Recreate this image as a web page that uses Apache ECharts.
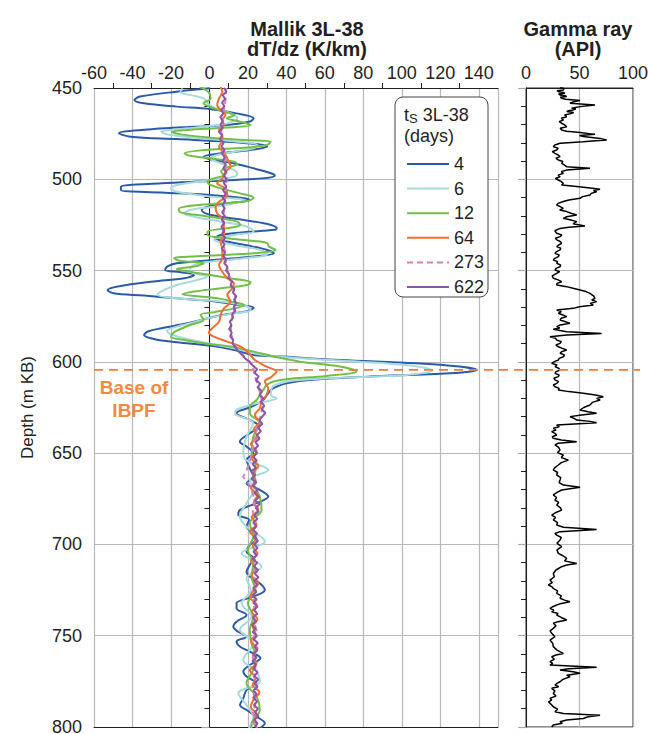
<!DOCTYPE html>
<html>
<head>
<meta charset="utf-8">
<script src="https://cdn.jsdelivr.net/npm/echarts@6/dist/echarts.min.js"></script>
<style>
  html, body { margin: 0; padding: 0; background: #fff; }
  #chart { width: 648px; height: 734px; }
</style>
</head>
<body>
<div id="chart"></div>
<script>
// depth (m KB), dT/dz (K/km) pairs, one list per shut-in time
const days = ['4', '6', '12', '64', '273', '622'];
const colors = ['#2b5aa8', '#a6dadd', '#72bf47', '#f26d30', '#d67fbe', '#8b56a6'];
const baseIBPF = 604.4;

const ts4 = [[450.2,0],[452.0,-17],[454.7,-36],[456.6,-39],[458.4,-34],[460.2,-17],[461.5,0],[463.9,14],[466.6,23],[468.4,21],[470.3,9],[471.2,-8],[472.5,-29],[474.8,-47],[476.7,-41],[478.0,-17],[479.4,9],[480.9,26],[482.1,30],[484.0,21],[485.8,6],[487.6,-3],[489.4,2],[491.3,13],[494.0,23],[496.7,32],[498.0,34],[499.5,27],[501.0,0],[502.2,-25],[504.1,-46],[505.9,-46],[507.2,-25],[508.6,0],[510.4,18],[511.4,21],[513.2,9],[515.0,-1],[516.8,-4],[518.7,-2],[520.5,6],[522.3,18],[525.0,32],[526.8,35],[527.7,34],[529.0,18],[530.5,6],[532.3,3],[534.1,9],[536.3,20],[538.7,30],[540.5,33.5],[542.3,23],[544.2,2],[546.0,-17],[547.8,-22],[549.7,-23],[550.9,-15],[552.4,-8],[554.2,-13],[556.0,-29],[557.9,-43],[560.6,-53],[562.4,-50],[563.7,-34],[565.2,-17],[566.6,0],[568.5,13],[570.3,23],[572.1,20],[573.9,9],[576.1,-1],[578.9,-11.5],[581.6,-25],[583.4,-32],[585.3,-34],[587.5,-29],[589.3,-17],[591.1,0],[593.5,13],[596.2,23],[597.1,38],[599.0,68],[600.8,107.6],[602.6,130],[604.4,139],[606.3,125],[608.1,82],[609.9,52],[611.7,40],[613.6,35],[615.4,32],[618.0,30],[620.9,28],[624.5,22],[628.1,14],[631.8,21],[635.4,26],[639.1,21],[643.7,15.8],[646.4,19.3],[650.1,22.8],[653.7,19.3],[658.3,21],[662.8,22.8],[666.5,19.3],[670.1,26.2],[673.8,30.6],[677.4,24.5],[681.1,15.9],[683.8,15],[686.6,20.6],[690.2,19.3],[693.9,22.8],[697.5,24.5],[700.3,21],[703.9,19.3],[707.6,22.8],[711.2,21],[714.9,19.3],[717.6,21],[721.3,26.2],[724.9,28.8],[728.6,22.8],[732.2,14.1],[734.9,14.1],[738.6,19.3],[742.3,14.1],[745.0,12.4],[747.7,14.7],[750.5,19.3],[753.2,14.1],[755.9,15.8],[758.7,21],[762.3,26.5],[766.0,21],[769.6,17.6],[772.4,19.3],[776.0,24.5],[779.7,19.3],[784.3,17.6],[787.9,15.9],[790.7,19.3],[794.3,24.5],[798.0,28.8],[800.7,26.2]];

const ts6 = [[450.2,-14],[452.0,-15],[455.7,-3],[459.3,0],[462.0,6],[464.8,13],[466.6,14.5],[469.4,9],[471.2,-3],[473.0,-20],[474.0,-25],[475.8,-20],[477.6,-3],[479.4,14.5],[481.2,25],[483.0,23],[484.9,13],[486.7,4],[488.5,0.6],[491.3,6],[494.0,11],[496.8,14.5],[498.6,13],[500.4,0.6],[503.1,-17],[505.0,-20],[506.8,-17],[509.5,0.6],[511.4,18],[514.1,9],[516.8,-10],[518.7,-13],[520.5,-8],[523.2,6],[526.0,19.7],[528.7,23],[530.5,13],[533.2,2.3],[536.0,13],[538.7,26.6],[541.0,30],[543.3,18],[545.1,0.6],[546.9,-8],[549.7,-10],[551.5,-8],[553.3,-1],[555.1,-6],[557.9,-17],[560.6,-23.6],[563.3,-27],[565.2,-17],[567.0,5.8],[569.7,19.7],[571.6,21.4],[573.4,13],[576.1,-1],[578.9,-10],[580.7,-17],[583.0,-22],[584.9,-20],[587.1,-13],[589.8,-1],[592.6,13],[595.3,23],[596.5,30],[598.0,47],[599.9,78],[602.2,106],[604.8,116],[607.2,102.4],[608.5,73],[609.9,47],[611.7,36.6],[614.5,32.3],[618.1,32],[620.0,35],[622.7,24.5],[626.3,14],[628.1,13.3],[633.6,22.8],[640.9,19.3],[649.1,17.6],[653.8,19],[659.2,30.6],[664.7,21],[670.0,23],[677.4,19.3],[684.7,15.8],[690.0,19],[698.4,28.8],[704.8,16.7],[712.1,27.1],[718.5,19.3],[725.0,21.5],[732.2,16.7],[739.5,21.9],[746.8,15.8],[754.1,22.8],[763.3,17.6],[769.0,24],[775.1,26.2],[781.5,15],[788.0,19.3],[794.5,22.8],[800.7,20.5]];

const ts12 = [[449.3,-5],[451.0,-2],[452.9,0],[455.7,0.6],[458.4,-3],[460.2,0],[463.0,7.5],[464.8,13],[466.6,9],[468.4,16],[470.3,21.4],[471.7,9],[473.0,-11.5],[474.0,-19.3],[475.4,-15],[477.2,0.6],[478.5,18],[479.4,31.8],[481.2,30],[482.7,18],[484.0,-3],[485.8,-13],[487.1,-10],[488.5,0.6],[490.4,13],[491.8,14.5],[493.6,9],[495.8,6],[497.7,7.5],[499.5,2.3],[501.3,-1],[503.1,0.6],[505.0,6],[507.7,16],[510.1,23],[511.9,19.7],[513.2,6],[514.5,-10],[516.3,-16],[518.1,-15],[519.6,-6.3],[521.4,6],[523.2,14.5],[525.0,16],[526.8,9],[528.7,-1],[530.5,-1],[532.3,9],[533.8,23],[535.0,30],[536.9,31],[538.7,34.4],[540.5,23],[541.8,0.6],[543.3,-18.4],[544.7,-15],[546.0,-3],[547.8,-8],[549.1,-17],[550.6,-10],[552.4,0.6],[554.6,13],[556.4,21.4],[557.9,19.7],[559.7,6],[561.5,-8],[563.0,-14],[564.3,-3],[565.5,6],[567.4,13],[568.8,18],[570.7,13],[572.8,2.3],[574.3,-4.6],[577.0,-3],[579.8,-10],[582.0,-15],[583.8,-18.4],[586.2,-20],[588.0,-13],[589.8,-3],[591.6,11],[594.4,23],[597.1,33.5],[599.9,47],[602.6,67.8],[605.3,76.4],[607.7,60.9],[609.5,40],[610.8,33.2],[612.7,29.7],[615.4,28],[618.1,26.2],[620.9,24.5],[624.5,21],[628.1,21],[633.6,26.2],[640.9,22.8],[650.0,22],[655.0,24],[659.2,23.9],[666.0,23],[673.8,26.2],[681.1,27.1],[688.4,21],[695.7,22.8],[703.0,20],[710.3,22.8],[717.6,21.9],[724.9,23.9],[732.2,20],[739.5,22.8],[746.8,21],[754.1,21.9],[761.4,23.9],[768.7,22.8],[776.0,19.3],[783.3,24.5],[790.7,26.2],[798.0,22],[800.7,21.9]];

const ts64 = [[449.4,5.8],[452.0,6.7],[455.7,5],[459.3,4],[462.0,5.8],[464.8,8.4],[467.5,6.7],[470.3,7.5],[473.0,5],[475.8,6.7],[478.5,6.7],[482.1,5],[486.7,8.4],[490.4,10],[493.1,11],[495.8,8.4],[499.5,6.7],[502.2,4],[505.0,8.4],[508.6,9.3],[512.3,5],[515.0,3.2],[518.7,4],[521.4,6.7],[525.0,7.5],[530.5,7.5],[534.1,5.8],[538.5,6.7],[543.3,6.7],[546.9,5],[550.6,6.7],[554.2,9.3],[557.0,12.7],[559.7,11.9],[563.3,9.3],[567.0,11],[570.7,7.5],[574.3,5.8],[578.0,5],[581.6,1.5],[583.8,-0.3],[586.2,2.3],[588.9,9.3],[591.6,16.2],[594.4,19.7],[596.5,21.5],[599.0,23.6],[602.6,29.7],[605.3,34.9],[608.1,32.3],[610.8,28.8],[614.5,30.6],[618.1,29.7],[621.8,27.1],[625.4,26.2],[629.1,23.6],[633,26],[637,23],[641,25],[645,21.5],[649,24.5],[653,22],[657,25.5],[661,22.5],[665,24],[669,21.5],[673,25],[677,23],[681,25.5],[685,22],[689,24.5],[693,21],[697,24],[701,22.5],[705,25],[709,21.5],[713,24],[717,22],[721,25.5],[725,23],[729,21],[733,24.5],[737,22],[741,25],[745,22.5],[749,24],[753,21.5],[757,25],[761,22.5],[765,24.5],[769,21],[773,24],[777,22.5],[781,26],[785,23],[789,21.5],[793,24.5],[797,23],[800.7,25]];

const ts273 = [[450,8.8],[455,8.5],[460,8],[465,7],[470,6.5],[475,6],[480,6.5],[485,7.5],[490,8],[495,8.5],[500,9],[505,8.5],[510,8],[515,7.5],[520,7.5],[525,7],[530,7],[535,7.5],[540,8],[545,8.5],[550,9.5],[555,11],[560,12.5],[565,13.5],[570,13],[575,12],[580,11],[585,11.5],[590,12.5],[595,16],[600,21],[604,23],[608,23.5],[612,25],[616,26],[620,27],[625,27.5],[630,26.5],[635,25],[640,24],[645,23],[650,22],[655,21],[660,19],[663,17.5],[667,20.5],[672,22.5],[677,23.5],[682,22.5],[687,24],[692,23],[697,24.5],[702,23],[707,24],[712,22.5],[717,24],[722,23],[727,24.5],[732,22.5],[737,24],[742,23],[747,24.5],[752,23],[757,24],[762,22.5],[767,24],[772,23],[777,24.5],[782,23],[787,24],[792,22.5],[797,24],[800,23.5]];

const ts622 = [[450,7.5],[452,8.8],[454,6.9],[456,8.2],[458,6.5],[460,7.8],[462,6.1],[464,7.3],[466,5.6],[468,7.0],[470,5.8],[472,6.9],[474,4.9],[476,6.6],[478,5.4],[480,7.4],[482,6.2],[484,7.9],[486,6.5],[488,8.1],[490,6.8],[492,8.6],[494,7.1],[496,8.9],[498,7.6],[500,9.0],[502,7.4],[504,8.8],[506,7.0],[508,8.5],[510,6.9],[512,8.3],[514,6.8],[516,8.0],[518,6.6],[520,7.9],[522,6.4],[524,7.7],[526,6.2],[528,7.8],[530,6.5],[532,8.2],[534,6.9],[536,7.8],[538,6.4],[540,8.1],[542,7.2],[544,8.6],[546,7.7],[548,9.4],[550,8.6],[552,10.3],[554,9.8],[556,11.8],[558,11.0],[560,12.9],[562,12.2],[564,14.0],[566,12.8],[568,13.9],[570,12.6],[572,13.5],[574,11.8],[576,12.2],[578,10.6],[580,11.5],[582,10.2],[584,11.6],[586,10.8],[588,12.3],[590,12.0],[592,13.6],[594,14.8],[596,16.9],[598,18.4],[600,20.9],[602,22.6],[604,24.8],[606,23.4],[608,25.6],[610,24.2],[612,26.4],[614,25.0],[616,27.2],[618,26.1],[620,28.0],[622,26.8],[624,28.5],[626,27.2],[628,29.1],[630,27.4],[632,26.0],[634,27.5],[636,25.2],[638,26.8],[640,24.6],[642,26.1],[644,23.9],[646,25.4],[648,23.2],[650,24.8],[652,22.9],[654,24.6],[656,22.4],[658,24.2],[660,21.6],[662,23.8],[664,21.9],[666,24.4],[668,22.6],[670,25.1],[672,23.4],[674,25.8],[676,23.8],[678,26.0],[680,24.1],[682,25.6],[684,23.2],[686,24.9],[688,22.8],[690,24.5],[692,22.6],[694,24.8],[696,23.0],[698,25.2],[700,23.4],[702,25.0],[704,22.9],[706,24.6],[708,22.5],[710,24.9],[712,23.1],[714,25.3],[716,23.6],[718,25.5],[720,23.3],[722,24.8],[724,22.7],[726,24.4],[728,22.3],[730,24.6],[732,22.8],[734,25.0],[736,23.2],[738,24.9],[740,22.6],[742,24.3],[744,22.1],[746,24.0],[748,22.5],[750,24.7],[752,23.0],[754,25.2],[756,23.4],[758,25.0],[760,22.8],[762,24.5],[764,22.4],[766,24.2],[768,22.9],[770,25.1],[772,23.3],[774,25.4],[776,23.5],[778,25.0],[780,22.9],[782,24.6],[784,22.7],[786,24.8],[788,23.1],[790,25.3],[792,23.6],[794,25.5],[796,23.4],[798,25.0],[800,23.8]];

// gamma ray log: depth (m KB), API
const gamma = [[449.6,31.8],[450.3,35.5],[451.1,34.9],[451.5,29.0],[452.0,30.2],[452.4,35.0],[452.9,36.4],[453.3,30.5],[453.8,31.8],[454.2,36.5],[454.7,38.0],[455.1,32.0],[455.6,33.3],[456.2,37.0],[456.9,50.5],[457.6,44.0],[458.4,41.1],[459.3,64.5],[460.2,50.5],[461.1,42.7],[461.5,46.5],[462.0,44.2],[462.5,40.0],[462.9,38.0],[463.4,44.5],[463.9,42.7],[464.8,36.0],[465.7,38.0],[466.6,33.0],[467.5,34.9],[468.4,31.0],[469.3,33.3],[470.2,36.0],[471.2,38.0],[472.1,32.0],[473.0,33.3],[473.7,38.0],[474.4,50.5],[475.4,64.5],[476.0,50.0],[476.6,53.6],[477.6,69.2],[478.5,75.4],[479.0,62.0],[479.4,53.6],[480.3,31.8],[481.2,27.0],[482.1,25.5],[483.0,30.0],[484.0,28.7],[484.9,24.5],[485.8,27.1],[486.7,30.0],[487.6,31.8],[488.5,28.0],[489.4,30.2],[490.3,34.5],[491.3,33.3],[492.2,36.0],[493.1,38.0],[494.0,59.8],[494.9,38.0],[495.8,33.0],[496.7,34.9],[497.7,30.0],[498.6,31.8],[499.5,27.5],[500.4,30.2],[501.3,33.0],[502.2,34.9],[503.1,33.3],[504.0,47.4],[504.8,60.0],[505.5,69.2],[506.2,63.0],[506.8,66.0],[507.7,61.0],[508.6,59.8],[509.5,53.0],[510.4,50.5],[511.3,40.0],[512.2,34.9],[513.2,30.0],[514.1,28.7],[515.0,32.0],[515.9,34.9],[516.8,31.5],[517.7,38.0],[518.6,42.0],[519.6,47.4],[520.5,38.0],[521.4,34.9],[522.3,42.0],[523.2,47.4],[524.4,44.0],[525.6,55.1],[526.3,40.0],[526.9,31.8],[528.2,27.0],[529.6,28.7],[530.5,33.5],[531.4,31.8],[532.3,27.5],[533.2,28.7],[534.1,32.0],[535.1,33.3],[536.0,30.5],[536.9,28.7],[537.8,32.5],[538.7,31.8],[539.6,28.5],[540.6,27.1],[541.5,31.0],[542.4,30.2],[543.3,27.0],[544.2,25.5],[545.1,29.5],[546.0,28.7],[547.0,32.5],[547.9,31.8],[548.8,28.0],[549.7,27.1],[550.6,31.5],[551.5,28.7],[552.9,24.5],[554.2,25.5],[555.1,30.0],[556.1,33.3],[557.0,29.0],[557.9,28.7],[558.8,38.0],[559.7,44.0],[560.6,50.5],[561.5,56.0],[562.5,59.8],[563.8,63.0],[565.2,64.5],[566.1,61.5],[567.0,66.0],[568.0,60.0],[568.9,62.9],[569.8,50.0],[570.7,44.2],[571.6,28.7],[572.5,33.0],[573.4,30.2],[574.3,34.5],[575.2,38.0],[576.1,33.0],[577.1,31.8],[578.0,37.0],[578.9,41.1],[579.8,32.0],[580.7,28.7],[581.5,31.5],[582.2,25.5],[583.5,38.0],[584.4,70.7],[585.3,38.0],[586.2,22.4],[587.1,27.5],[588.0,28.7],[588.9,33.0],[589.9,31.8],[590.8,28.0],[591.7,30.2],[592.6,34.0],[593.5,38.0],[594.4,33.5],[595.3,31.8],[596.2,36.0],[597.2,34.9],[598.1,31.0],[599.0,30.2],[599.9,26.5],[600.8,24.0],[601.7,29.0],[602.6,27.1],[603.5,30.5],[604.5,31.8],[605.4,28.0],[606.3,27.1],[607.2,31.0],[608.1,30.2],[609.0,26.0],[609.9,27.1],[610.8,30.5],[611.8,28.7],[612.7,25.5],[613.6,27.1],[614.5,31.0],[615.4,30.2],[616.3,40.0],[617.2,53.6],[618.2,65.0],[619.1,72.3],[620.0,66.0],[620.9,69.2],[622.2,62.0],[623.6,59.8],[625.0,54.0],[626.4,50.5],[627.3,58.0],[628.2,66.0],[629.1,52.0],[630.0,41.1],[631.0,45.0],[631.9,47.4],[632.6,60.0],[633.3,66.0],[634.6,28.7],[635.5,31.0],[636.4,25.5],[637.3,28.0],[638.2,24.0],[639.2,27.0],[640.1,28.7],[641.0,24.5],[641.9,25.5],[642.8,33.0],[643.7,47.4],[644.6,30.0],[645.5,27.1],[646.9,30.5],[648.3,31.8],[649.7,29.5],[651.0,34.9],[652.4,33.0],[653.8,39.6],[655.2,33.0],[656.5,30.2],[657.9,27.0],[659.2,25.5],[660.6,29.5],[662.0,28.7],[663.4,32.5],[664.7,31.8],[666.1,31.0],[667.5,34.9],[668.7,50.5],[670.2,33.3],[671.5,29.0],[672.9,25.5],[674.3,28.5],[675.7,27.1],[677.0,30.5],[678.4,28.7],[679.8,32.0],[681.2,33.3],[682.5,28.0],[683.9,24.0],[685.2,27.5],[686.6,25.5],[688.0,29.5],[689.4,28.7],[690.6,35.0],[691.8,66.0],[693.0,31.8],[694.0,27.0],[694.9,28.7],[696.2,33.0],[697.6,31.8],[699.4,29.0],[701.2,33.3],[703.0,29.0],[704.9,30.2],[706.2,34.5],[707.6,38.0],[709.0,36.0],[710.4,47.4],[711.3,38.0],[712.2,33.3],[714.0,28.0],[715.9,25.5],[717.7,26.5],[719.5,22.4],[720.9,24.5],[722.2,20.9],[723.1,24.0],[724.1,25.5],[725.4,29.5],[726.8,28.7],[728.2,33.0],[729.5,31.8],[730.5,36.0],[731.4,41.1],[732.3,33.0],[733.2,28.7],[734.1,25.0],[735.0,22.4],[736.0,26.0],[736.9,24.0],[737.8,30.0],[738.7,28.7],[740.0,33.0],[741.4,38.0],[742.3,30.0],[743.2,25.5],[744.6,28.0],[746.0,25.5],[747.3,22.5],[748.7,24.0],[750.5,27.0],[752.4,22.4],[754.2,25.0],[756.0,25.5],[757.9,29.0],[759.7,34.9],[760.6,28.0],[761.5,24.0],[762.9,26.5],[764.2,22.4],[765.2,25.0],[766.1,22.4],[767.3,66.0],[768.1,40.0],[768.8,31.8],[769.7,44.0],[770.6,50.5],[771.6,38.0],[772.5,41.1],[773.9,34.5],[775.2,31.8],[776.1,29.0],[777.0,27.1],[777.9,30.5],[778.8,24.0],[780.2,27.0],[781.6,25.5],[783.0,28.0],[784.3,22.4],[785.3,24.0],[786.2,20.9],[787.6,23.5],[788.9,25.5],[790.2,29.5],[791.6,27.1],[792.6,35.0],[793.5,69.2],[794.4,58.0],[795.3,53.6],[796.2,38.0],[797.1,31.8],[798.0,34.0],[798.9,25.5],[800.0,24.0]];

const profiles = [ts4, ts6, ts12, ts64, ts273, ts622];

const FONT = '"Liberation Sans", Arial, sans-serif';
const INK = '#231f20';
const GRIDLINE = '#b8b8b8';

const chart = echarts.init(document.getElementById('chart'), null, { renderer: 'svg' });

const depthAxis = (gridIndex, showLabel) => ({
  type: 'value',
  gridIndex: gridIndex,
  inverse: true,
  min: 450,
  max: 800,
  interval: 50,
  name: showLabel ? 'Depth (m KB)' : '',
  nameLocation: 'middle',
  nameGap: 58,
  nameTextStyle: { fontSize: 17, color: INK, fontFamily: FONT },
  axisLine: { show: true, lineStyle: { color: INK, width: 1 } },
  axisTick: { show: true, length: 8, lineStyle: { color: '#a8a8a8', width: 1.2 } },
  minorTick: { show: true, splitNumber: 5, length: 5, lineStyle: { color: INK, width: 1 } },
  axisLabel: { show: showLabel, fontSize: 18, color: INK, fontFamily: FONT, margin: 12, lineHeight: 14 },
  splitLine: { show: true, lineStyle: { color: GRIDLINE, width: 1.2 } }
});

let seriesArray = [];
profiles.forEach((list, i) => {
  seriesArray.push({
    type: 'line',
    name: days[i],
    xAxisIndex: 0,
    yAxisIndex: 0,
    data: list.map(p => [p[1], p[0]]),
    symbol: 'none',
    smooth: i < 4 ? 0.35 : false,
    clip: true,
    lineStyle: { color: colors[i], width: 2, type: i === 4 ? [6, 4] : 'solid' },
    itemStyle: { color: colors[i] },
    z: 2 + i
  });
});
seriesArray.push({
  type: 'line',
  name: 'Gamma ray',
  xAxisIndex: 2,
  yAxisIndex: 1,
  data: gamma.map(p => [p[1], p[0]]),
  symbol: 'none',
  clip: true,
  lineStyle: { color: '#000', width: 1.5 }
});

chart.setOption({
  animation: false,
  backgroundColor: '#fff',
  textStyle: { fontFamily: FONT },
  grid: [
    { left: 94, top: 88, width: 404, height: 639, outerBoundsMode: 'none', show: false },
    { left: 526, top: 88, width: 107, height: 639, outerBoundsMode: 'none', show: true,
      borderColor: INK, borderWidth: 1, backgroundColor: 'transparent' }
  ],
  xAxis: [
    {
      type: 'value', gridIndex: 0, position: 'top',
      min: -60, max: 150, interval: 20,
      axisLine: { show: true, onZero: false, lineStyle: { color: INK, width: 1 } },
      axisTick: { show: false },
      minorTick: { show: true, splitNumber: 2, length: 5, lineStyle: { color: INK } },
      axisLabel: {
        fontSize: 18, color: INK, fontFamily: FONT, margin: 6,
        formatter: v => (v > 140 ? '' : String(v))
      },
      splitLine: { show: true, lineStyle: { color: GRIDLINE, width: 1.2 } }
    },
    {
      type: 'value', gridIndex: 0, position: 'bottom',
      min: -60, max: 150,
      axisLine: { show: true, onZero: false, lineStyle: { color: INK, width: 1 } },
      axisTick: { show: false }, axisLabel: { show: false }, splitLine: { show: false }
    },
    {
      type: 'value', gridIndex: 1, position: 'top',
      min: 0, max: 100, interval: 50,
      axisLine: { show: true, onZero: false, lineStyle: { color: INK, width: 1 } },
      axisTick: { show: false },
      axisLabel: { fontSize: 18, color: INK, fontFamily: FONT, margin: 6 },
      splitLine: { show: true, lineStyle: { color: GRIDLINE, width: 1.2 } }
    }
  ],
  yAxis: [depthAxis(0, true), depthAxis(1, false)],
  legend: {
    data: days,
    orient: 'vertical',
    left: 401,
    top: 150,
    itemWidth: 42,
    itemHeight: 14,
    itemGap: 6.6,
    itemStyle: { opacity: 0 },
    textStyle: { fontSize: 18, color: INK, fontFamily: FONT, lineHeight: 18 },
    z: 10
  },
  graphic: [
    { type: 'rect', id: 'legendBox', z: 8,
      shape: { x: 395, y: 97, width: 93, height: 200, r: 8 },
      style: { fill: '#fff', stroke: '#444', lineWidth: 1 } },
    { type: 'text', id: 'legendTitle', z: 9, x: 404, y: 104,
      style: {
        text: '{t|t}{s|S}{t| 3L-38}\n{t|(days)}',
        rich: {
          t: { fontSize: 18, fontFamily: FONT, fill: INK, lineHeight: 21 },
          s: { fontSize: 13, fontFamily: FONT, fill: INK, padding: [8, 0, 0, 0], lineHeight: 21 }
        }
      } },
    { type: 'text', id: 'titleLeft', x: 307, y: 19,
      style: { text: 'Mallik 3L-38\ndT/dz (K/km)', fontSize: 20, fontWeight: 'bold', fontFamily: FONT,
        fill: INK, align: 'center', lineHeight: 20 } },
    { type: 'text', id: 'titleRight', x: 578, y: 19,
      style: { text: 'Gamma ray\n(API)', fontSize: 20, fontWeight: 'bold', fontFamily: FONT,
        fill: INK, align: 'center', lineHeight: 20 } },
    { type: 'text', id: 'baseLabel', x: 134, y: 376, z: 9,
      style: { text: 'Base of\nIBPF', fontSize: 19, fontWeight: 'bold', fontFamily: FONT,
        fill: '#f5893c', align: 'center', lineHeight: 23 } }
  ],
  series: seriesArray
});

// dashed marker across both tracks, placed through the axes' own scales
const yBase = chart.convertToPixel({ yAxisIndex: 0 }, baseIBPF);
const xStart = chart.convertToPixel({ xAxisIndex: 0 }, -60);
const xEnd = chart.convertToPixel({ xAxisIndex: 2 }, 100) + 7;
chart.setOption({
  graphic: [{
    type: 'line', id: 'baseLine', z: 20,
    shape: { x1: xStart, y1: yBase, x2: xEnd, y2: yBase },
    style: { stroke: '#f47a35', lineWidth: 1.6, lineDash: [9, 6] }
  }]
});
</script>
</body>
</html>
